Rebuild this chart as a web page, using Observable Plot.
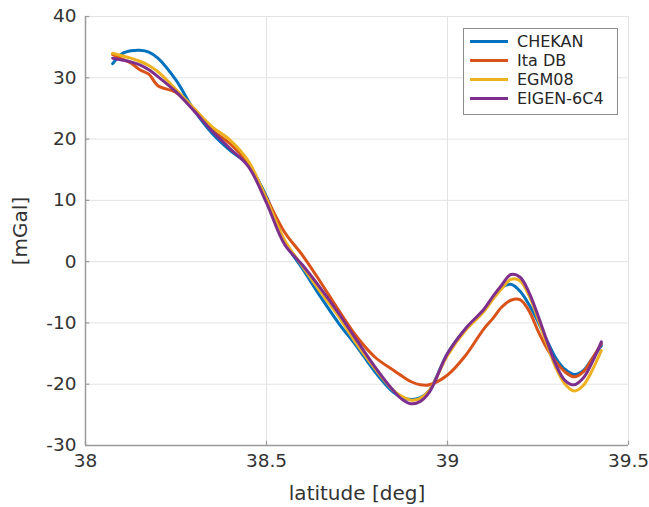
<!DOCTYPE html>
<html>
<head>
<meta charset="utf-8">
<script src="https://cdn.jsdelivr.net/npm/d3@7"></script>
<script src="https://cdn.jsdelivr.net/npm/@observablehq/plot@0.6"></script>
<style>
  html, body { margin: 0; padding: 0; background: #fff; }
  #wrap { position: relative; width: 649px; height: 507px; font-family: "DejaVu Sans", sans-serif; }
  #legend { position: absolute; left: 463px; top: 28px; width: 155px; height: 87px; border: 1px solid #8c8c8c; background: #fff; box-sizing: border-box; padding-top: 3px; }
  .row { display: flex; align-items: center; height: 19px; line-height: 19px; font-size: 16px; color: #262626; white-space: nowrap; }
  .sw { width: 38px; height: 3px; margin-left: 6px; margin-right: 9px; flex: none; }
</style>
</head>
<body>
<div id="wrap"></div>
<script>
const seriesNames = ["CHEKAN", "Ita DB", "EGM08", "EIGEN-6C4"];
const seriesColors = ["#0072BD", "#D95319", "#EDB120", "#7E2F8E"];

const lats = [38.075, 38.1, 38.125, 38.15, 38.175, 38.2, 38.25, 38.3, 38.35, 38.4, 38.45, 38.5,
  38.55, 38.6, 38.65, 38.7, 38.75, 38.8, 38.85, 38.875, 38.9, 38.925, 38.95, 39.0, 39.05, 39.1,
  39.125, 39.15, 39.175, 39.2, 39.225, 39.25, 39.275, 39.3, 39.325, 39.35, 39.375, 39.4, 39.425];

const chekan = [32.3, 33.9, 34.4, 34.5, 34.2, 33.2, 29.6, 24.7, 20.9, 18.1, 15.8, 10.6,
  3.2, -1.2, -5.8, -10.1, -13.9, -18.0, -21.3, -22.2, -22.5, -22.2, -21.0, -15.0, -11.0, -8.0,
  -6.0, -4.2, -3.7, -4.8, -7.0, -9.8, -12.9, -15.8, -17.6, -18.4, -17.8, -15.8, -13.7];

const itaDB = [33.8, 33.1, 32.4, 31.3, 30.6, 28.7, 27.6, 24.9, 21.5, 19.2, 16.0, 10.4,
  4.8, 1.0, -3.4, -8.0, -12.3, -15.6, -17.7, -18.7, -19.6, -20.1, -20.1, -18.5, -15.3, -11.0,
  -9.3, -7.4, -6.3, -6.2, -8.0, -11.3, -14.2, -16.4, -18.0, -18.8, -18.0, -15.8, -13.4];

const egm08 = [34.0, 33.6, 33.2, 32.7, 32.0, 31.0, 28.1, 25.0, 22.0, 19.8, 16.4, 10.2,
  3.5, -0.8, -5.0, -9.0, -13.5, -17.5, -21.0, -22.0, -22.6, -22.3, -21.0, -15.3, -11.2, -8.2,
  -6.2, -4.4, -2.9, -3.1, -5.5, -9.3, -13.5, -17.4, -20.0, -21.1, -20.2, -17.7, -14.5];

const eigen6c4 = [33.2, 32.9, 32.6, 32.1, 31.3, 30.2, 27.7, 24.6, 21.3, 18.4, 15.5, 9.6,
  2.8, -0.6, -4.4, -8.5, -12.9, -17.2, -21.0, -22.5, -23.2, -22.8, -21.3, -15.0, -10.9, -7.8,
  -5.7, -3.8, -2.1, -2.5, -5.0, -8.8, -13.0, -16.9, -19.4, -20.1, -19.0, -16.4, -13.1];

const xTicks = [38, 38.5, 39, 39.5];
const yTicks = [-30, -20, -10, 0, 10, 20, 30, 40];

const allSeries = [chekan, itaDB, egm08, eigen6c4];
const data = [];
allSeries.forEach((vals, si) => {
  vals.forEach((v, i) => data.push({series: seriesNames[si], lat: lats[i], val: v}));
});

const axisColor = "#9a9a9a";
const textColor = "#333333";

const chart = Plot.plot({
  width: 649,
  height: 507,
  marginLeft: 85,
  marginRight: 21,
  marginTop: 16,
  marginBottom: 62,
  style: {fontFamily: "DejaVu Sans, sans-serif", fontSize: "18.5px", color: textColor, background: "#fff"},
  x: {domain: [38, 39.5]},
  y: {domain: [-30, 40]},
  color: {domain: seriesNames, range: seriesColors},
  marks: [
    Plot.ruleX(xTicks, {stroke: "#e3e3e3", strokeWidth: 1}),
    Plot.ruleY(yTicks, {stroke: "#e3e3e3", strokeWidth: 1}),
    Plot.ruleX([38], {stroke: axisColor, strokeWidth: 1.5}),
    Plot.ruleY([-30], {stroke: axisColor, strokeWidth: 1.5}),
    Plot.ruleY(yTicks, {x1: 38, x2: 38.012, stroke: axisColor, strokeWidth: 1.2}),
    Plot.ruleX(xTicks, {y1: -30, y2: -29.3, stroke: axisColor, strokeWidth: 1.2}),
    Plot.axisY({ticks: yTicks, tickSize: 0, tickPadding: 9, tickFormat: d => String(d), fill: textColor,
      fontSize: 18.5, label: null}),
    Plot.axisY({ticks: [], tickSize: 0, fill: textColor, fontSize: 20,
      label: "[mGal]", labelAnchor: "center", labelOffset: 73, labelArrow: "none"}),
    Plot.axisX({ticks: xTicks, tickSize: 0, tickPadding: 8, tickFormat: d => String(d), fill: textColor,
      fontSize: 18.5, label: null}),
    Plot.axisX({ticks: [], tickSize: 0, fill: textColor, fontSize: 20,
      label: "latitude [deg]", labelAnchor: "center", labelOffset: 54, labelArrow: "none"}),
    Plot.line(data, {x: "lat", y: "val", z: "series", stroke: "series", strokeWidth: 3, curve: "catmull-rom"})
  ]
});

const wrap = document.getElementById("wrap");
wrap.appendChild(chart);

const legend = document.createElement("div");
legend.id = "legend";
seriesNames.forEach((name, i) => {
  const row = document.createElement("div");
  row.className = "row";
  const sw = document.createElement("span");
  sw.className = "sw";
  sw.style.background = seriesColors[i];
  const label = document.createElement("span");
  label.textContent = name;
  row.appendChild(sw);
  row.appendChild(label);
  legend.appendChild(row);
});
wrap.appendChild(legend);
</script>
</body>
</html>
